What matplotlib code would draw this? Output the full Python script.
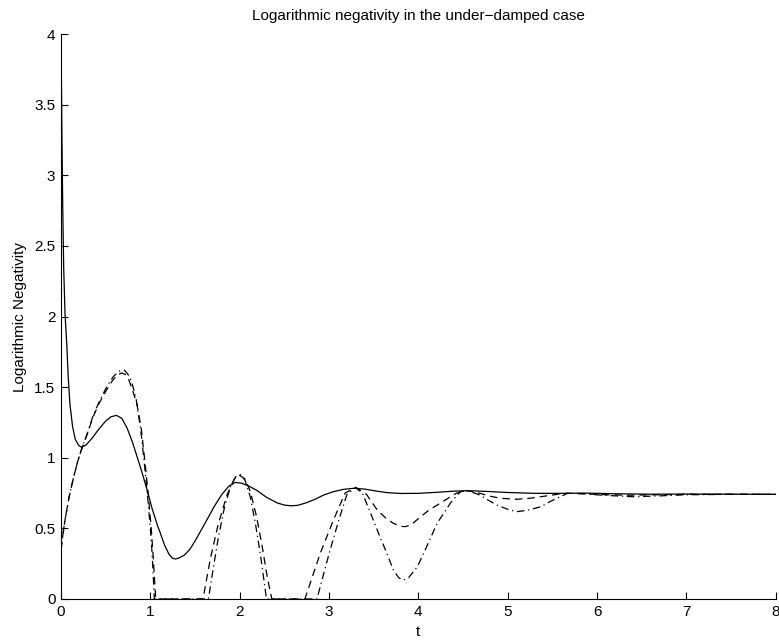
import matplotlib
matplotlib.use("Agg")
import matplotlib.pyplot as plt

plt.rcParams['font.family'] = ['Liberation Sans', 'DejaVu Sans']

# solid curve
t_a = [0, 0.01, 0.02, 0.03, 0.045, 0.065, 0.08, 0.10, 0.13, 0.16, 0.20, 0.23, 0.28,
       0.35, 0.42, 0.50, 0.56, 0.62, 0.68, 0.74, 0.80, 0.85, 0.90, 0.96, 1.02, 1.08,
       1.11, 1.16, 1.21, 1.25, 1.28, 1.32, 1.38, 1.44, 1.50, 1.58, 1.65, 1.72, 1.80,
       1.88, 1.95, 2.02, 2.10, 2.19, 2.30, 2.42, 2.50, 2.57, 2.65, 2.74, 2.84, 2.94,
       3.05, 3.16, 3.28, 3.40, 3.52, 3.65, 3.80, 4.0, 4.2, 4.38, 4.55, 4.75, 5.0,
       5.3, 5.67, 5.85, 6.2, 6.6, 7.0, 7.5, 8.0]
y_a = [4.0, 3.3, 2.75, 2.35, 2.02, 1.80, 1.58, 1.38, 1.22, 1.13, 1.085, 1.075, 1.09,
       1.14, 1.20, 1.26, 1.29, 1.30, 1.28, 1.21, 1.11, 1.01, 0.91, 0.78, 0.64, 0.52,
       0.47, 0.38, 0.315, 0.288, 0.283, 0.29, 0.31, 0.35, 0.41, 0.50, 0.58, 0.66, 0.74,
       0.80, 0.825, 0.82, 0.80, 0.77, 0.72, 0.68, 0.665, 0.66, 0.663, 0.68, 0.705, 0.736,
       0.76, 0.776, 0.784, 0.778, 0.765, 0.753, 0.747, 0.748, 0.755, 0.763, 0.767, 0.762, 0.754,
       0.748, 0.748, 0.75, 0.745, 0.742, 0.743, 0.742, 0.741]

# dashed curve
t_b = [0, 0.02, 0.045, 0.09, 0.14, 0.19, 0.23, 0.30, 0.36, 0.43, 0.51, 0.58, 0.64,
       0.68, 0.72, 0.76, 0.80, 0.85, 0.90, 0.94, 0.98, 1.01, 1.03, 1.06, 1.59,
       1.67, 1.76, 1.86, 1.94, 2.0, 2.06, 2.12, 2.19, 2.25, 2.31, 2.36, 2.73,
       2.90, 3.05, 3.18, 3.30, 3.42, 3.54, 3.64, 3.72, 3.80, 3.85, 3.92, 4.02,
       4.12, 4.25, 4.35, 4.43, 4.55, 4.69, 4.80, 4.92, 5.1, 5.25, 5.37, 5.50,
       5.63, 5.75, 5.95, 6.15, 6.35, 6.6, 7.0, 7.5, 8.0]
y_b = [0.35, 0.45, 0.56, 0.72, 0.86, 0.98, 1.06, 1.18, 1.29, 1.39, 1.48, 1.55, 1.59,
       1.60, 1.59, 1.55, 1.48, 1.38, 1.20, 0.97, 0.72, 0.50, 0.32, 0.0, 0.0,
       0.28, 0.53, 0.74, 0.85, 0.875, 0.85, 0.76, 0.58, 0.38, 0.15, 0.0, 0.0,
       0.32, 0.56, 0.75, 0.79, 0.74, 0.63, 0.57, 0.536, 0.515, 0.512, 0.525, 0.58,
       0.63, 0.68, 0.72, 0.75, 0.767, 0.748, 0.728, 0.713, 0.706, 0.713, 0.724, 0.736,
       0.748, 0.748, 0.742, 0.737, 0.735, 0.737, 0.741, 0.741, 0.741]

# dash-dot curve
t_c = [0, 0.02, 0.045, 0.09, 0.14, 0.19, 0.23, 0.30, 0.36, 0.43, 0.51, 0.58, 0.64,
       0.68, 0.71, 0.75, 0.79, 0.84, 0.89, 0.93, 0.97, 1.0, 1.02, 1.045, 1.65,
       1.70, 1.76, 1.83, 1.90, 1.96, 2.01, 2.06, 2.12, 2.18, 2.24, 2.30, 2.865,
       3.0, 3.11, 3.20, 3.30, 3.38, 3.47, 3.57, 3.65, 3.72, 3.78, 3.83, 3.89, 3.99,
       4.10, 4.21, 4.36, 4.47, 4.55, 4.69, 4.78, 4.88, 5.0, 5.1, 5.22, 5.37, 5.46,
       5.55, 5.67, 5.85, 6.05, 6.4, 6.7, 7.0, 7.5, 8.0]
y_c = [0.35, 0.45, 0.56, 0.72, 0.86, 0.98, 1.06, 1.18, 1.30, 1.40, 1.50, 1.57, 1.61,
       1.62, 1.62, 1.59, 1.54, 1.42, 1.21, 0.98, 0.72, 0.50, 0.32, 0.0, 0.0,
       0.20, 0.43, 0.65, 0.80, 0.87, 0.88, 0.84, 0.72, 0.52, 0.28, 0.0, 0.0,
       0.32, 0.56, 0.74, 0.79, 0.74, 0.60, 0.44, 0.32, 0.205, 0.15, 0.134, 0.15, 0.23,
       0.38, 0.536, 0.68, 0.76, 0.767, 0.736, 0.70, 0.665, 0.635, 0.618, 0.628, 0.653, 0.685,
       0.713, 0.748, 0.745, 0.735, 0.724, 0.73, 0.738, 0.741, 0.741]

yticks = [0, 0.5, 1, 1.5, 2, 2.5, 3, 3.5, 4]
ylabels = ["0", "0.5", "1", "1.5", "2", "2.5", "3", "3.5", "4"]
xticks = [0, 1, 2, 3, 4, 5, 6, 7, 8]

fig = plt.figure(figsize=(7.79, 6.42), dpi=100)
ax = fig.add_axes([0.0783, 0.067, 0.9175, 0.880])

ax.plot(t_a, y_a, color="black", lw=0.9, linestyle="-")
ax.plot(t_b, y_b, color="black", lw=0.9, linestyle=(0, (6, 4)))
ax.plot(t_c, y_c, color="black", lw=0.9, linestyle=(0, (6, 3, 1, 3)))

ax.set_xlim(0, 8)
ax.set_ylim(0, 4)
ax.set_xticks(xticks)
ax.set_yticks(yticks)
ax.set_yticklabels(ylabels)
ax.spines["top"].set_visible(False)
ax.spines["right"].set_visible(False)
ax.spines["left"].set_linewidth(0.8)
ax.spines["bottom"].set_linewidth(0.8)
ax.tick_params(direction="in", length=5, width=0.8, labelsize=11, pad=4)

ax.set_title("Logarithmic negativity in the under\u2212damped case", fontsize=11, pad=10)
ax.set_xlabel("t", fontsize=11, labelpad=5)
ax.set_ylabel("Logarithmic Negativity", fontsize=11, labelpad=5)

fig.savefig("out.png", dpi=100)
